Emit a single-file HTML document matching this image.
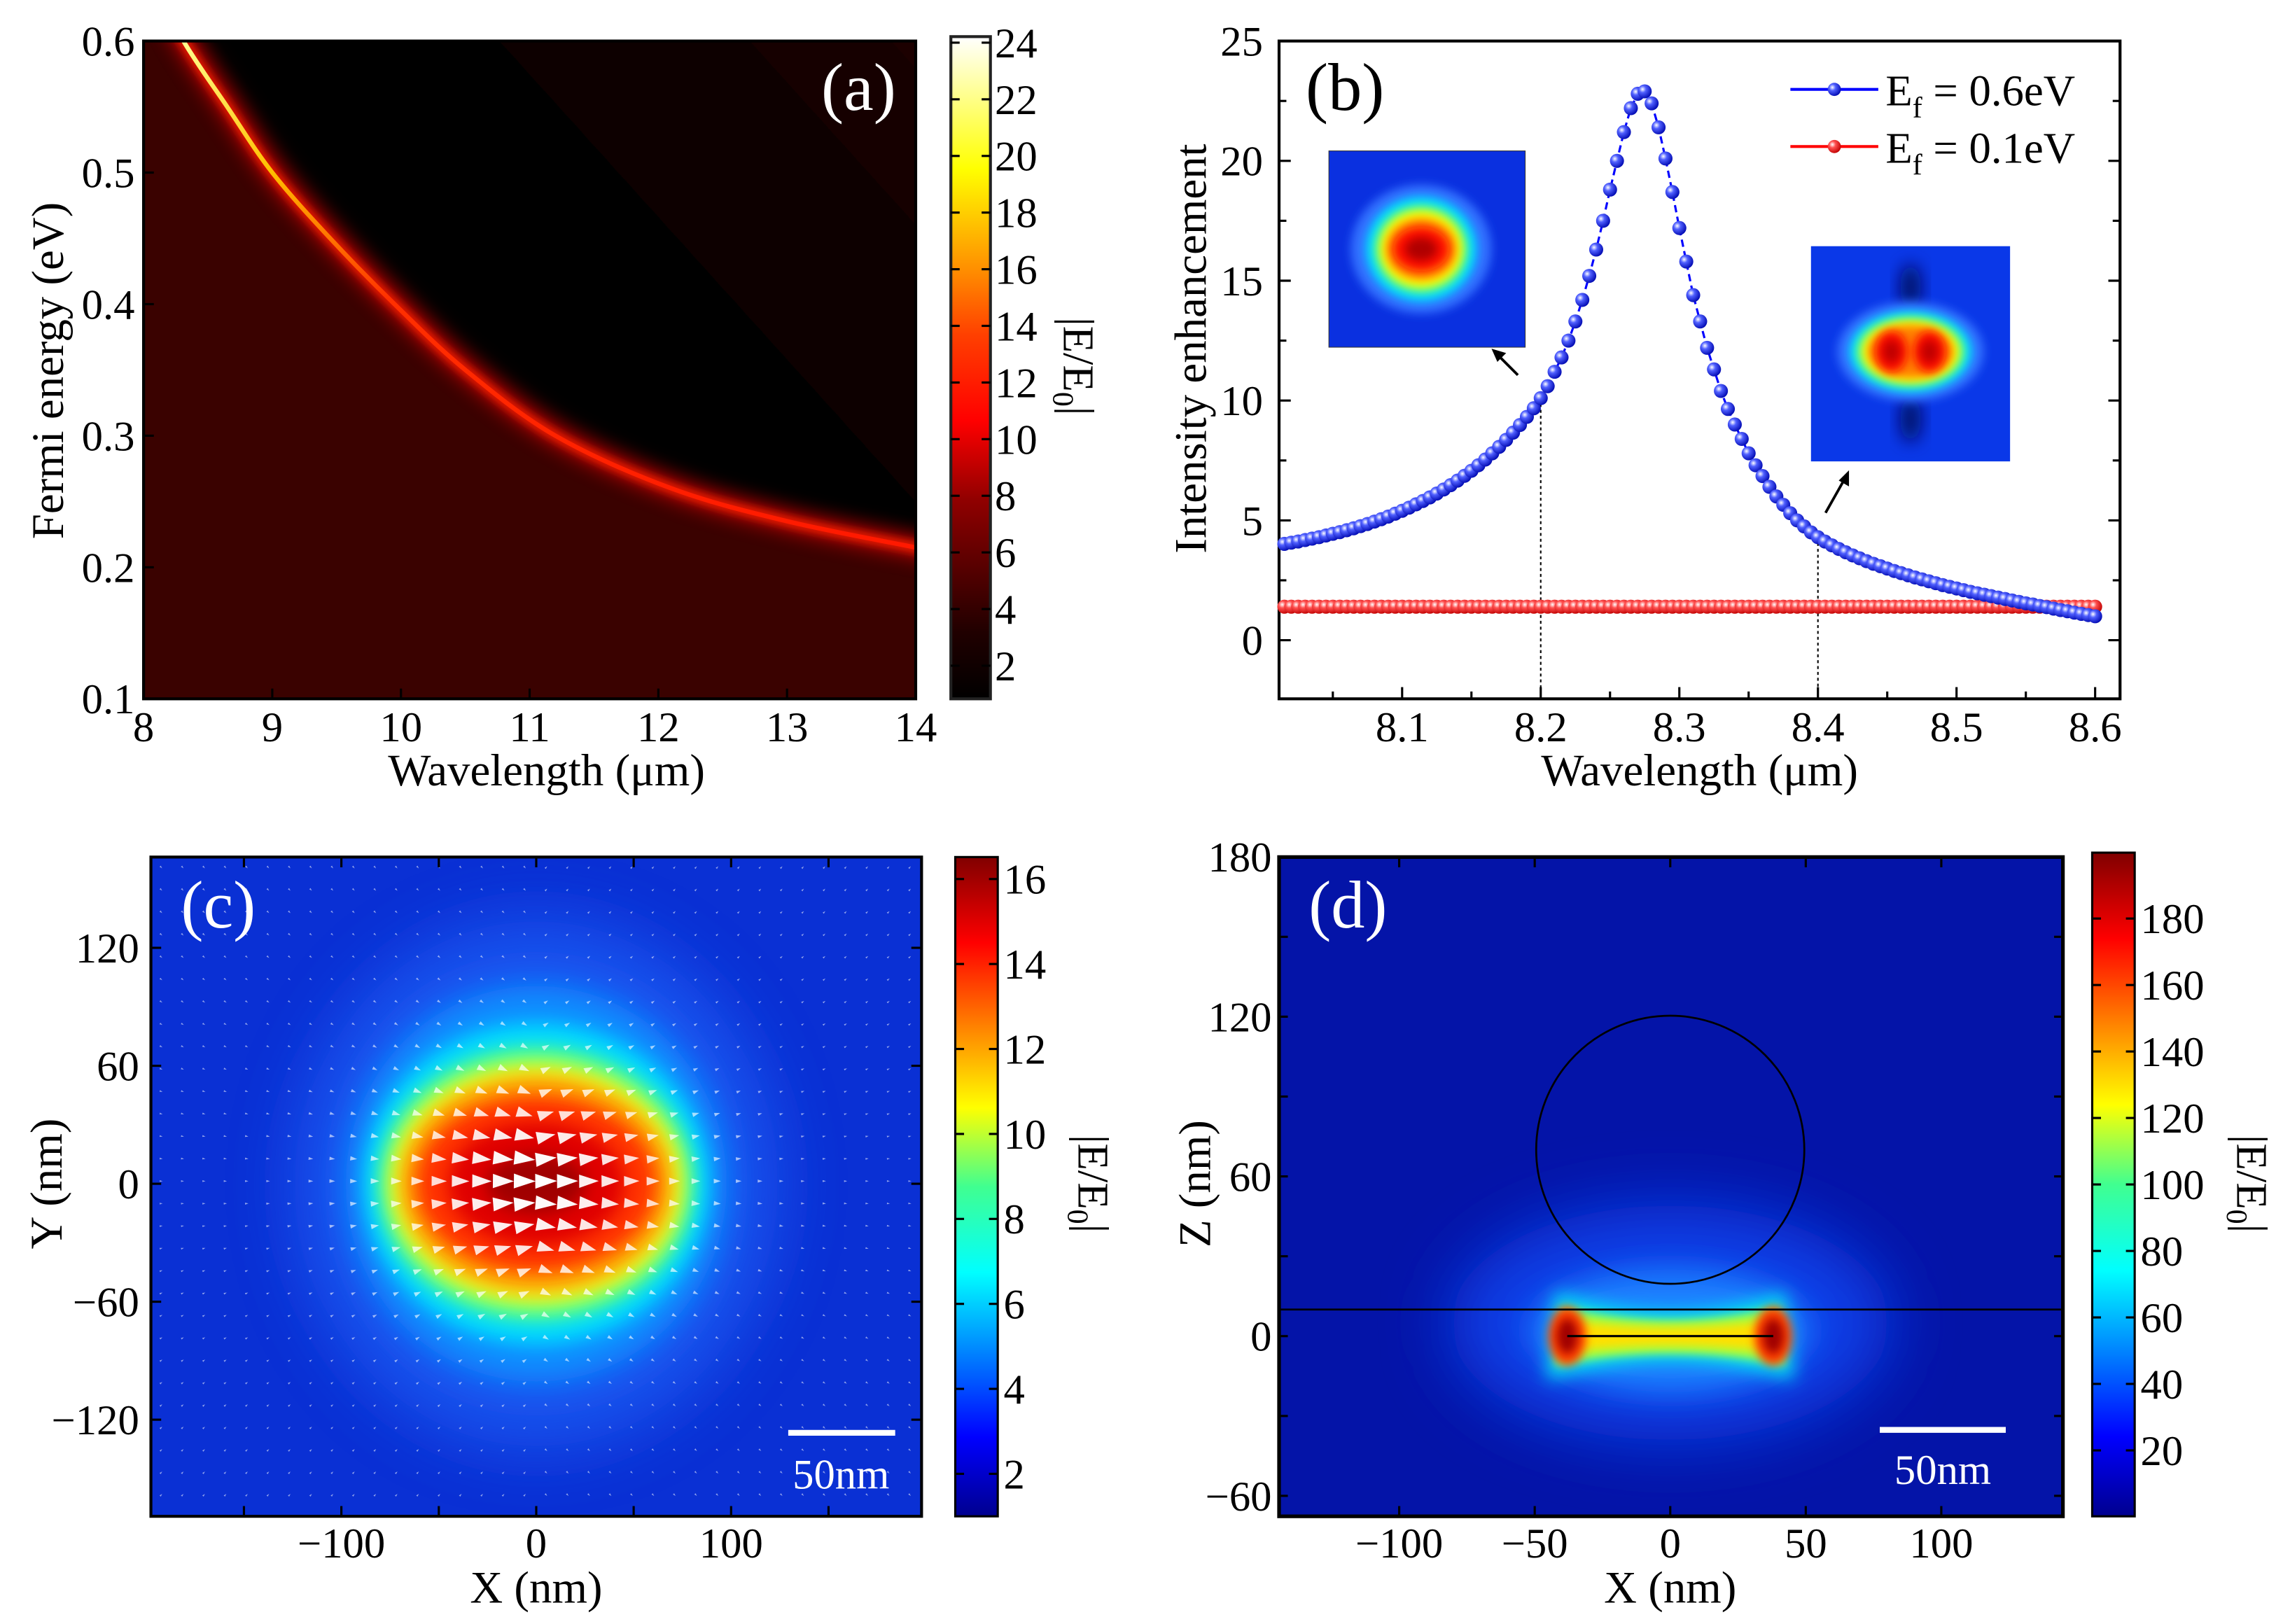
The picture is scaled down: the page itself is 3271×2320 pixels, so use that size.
<!DOCTYPE html>
<html><head><meta charset="utf-8">
<style>
html,body{margin:0;padding:0;background:#fff;}
svg{display:block;}
text{font-family:"Liberation Serif",serif;fill:#000;}
</style></head>
<body>
<svg id="fig" xmlns="http://www.w3.org/2000/svg" width="3271" height="2320" viewBox="0 0 1563 1108.5" preserveAspectRatio="none">
<defs>
  <filter id="blur3" x="-50%" y="-50%" width="200%" height="200%"><feGaussianBlur stdDeviation="3"/></filter>
  <filter id="blur6" x="-50%" y="-50%" width="200%" height="200%"><feGaussianBlur stdDeviation="6"/></filter>
  <filter id="blur10" x="-50%" y="-50%" width="200%" height="200%"><feGaussianBlur stdDeviation="10"/></filter>
  <filter id="blur20" x="-50%" y="-50%" width="200%" height="200%"><feGaussianBlur stdDeviation="22"/></filter>
  <filter id="blurDark" filterUnits="userSpaceOnUse" x="0" y="-100" width="800" height="700"><feGaussianBlur stdDeviation="7"/></filter>
  <clipPath id="clipA"><rect x="98" y="28" width="527" height="449"/></clipPath>
  <clipPath id="clipC"><rect x="103" y="585" width="526" height="450"/></clipPath>
  <clipPath id="clipD"><rect x="873" y="585" width="535" height="450"/></clipPath>
  <clipPath id="clipI1"><rect x="907" y="103" width="134" height="134"/></clipPath>
  <clipPath id="clipI2"><rect x="1236" y="168" width="136" height="147"/></clipPath>
  <linearGradient id="hotBar" x1="0" y1="1" x2="0" y2="0">
    <stop offset="0" stop-color="#000"/><stop offset="0.1" stop-color="#200000"/>
    <stop offset="0.3" stop-color="#900000"/><stop offset="0.42" stop-color="#ff0000"/>
    <stop offset="0.55" stop-color="#ff4000"/><stop offset="0.65" stop-color="#ff9000"/>
    <stop offset="0.8" stop-color="#ffff00"/><stop offset="1" stop-color="#ffffff"/>
  </linearGradient>
  <linearGradient id="jetBar" x1="0" y1="1" x2="0" y2="0">
    <stop offset="0" stop-color="#00008f"/><stop offset="0.12" stop-color="#0000ff"/>
    <stop offset="0.37" stop-color="#00ffff"/><stop offset="0.5" stop-color="#40ff90"/>
    <stop offset="0.62" stop-color="#ffff00"/><stop offset="0.87" stop-color="#ff0000"/>
    <stop offset="1" stop-color="#800000"/>
  </linearGradient>
  <linearGradient id="curveGrad" gradientUnits="userSpaceOnUse" x1="0" y1="28" x2="0" y2="380">
    <stop offset="0" stop-color="#ffff90"/><stop offset="0.25" stop-color="#ffc000"/>
    <stop offset="0.5" stop-color="#ff3000"/><stop offset="1" stop-color="#ff1800"/>
  </linearGradient>
  <linearGradient id="darkGrad" gradientUnits="userSpaceOnUse" x1="330" y1="300" x2="640" y2="20">
    <stop offset="0" stop-color="#000000"/><stop offset="0.3" stop-color="#020000"/>
    <stop offset="0.7" stop-color="#100000"/><stop offset="1" stop-color="#1e0000"/>
  </linearGradient>
  <radialGradient id="ballBlue" cx="0.35" cy="0.35" r="0.7">
    <stop offset="0" stop-color="#ffffff"/><stop offset="0.35" stop-color="#5060ff"/><stop offset="1" stop-color="#0008b0"/>
  </radialGradient>
  <radialGradient id="ballRed" cx="0.35" cy="0.35" r="0.7">
    <stop offset="0" stop-color="#ffffff"/><stop offset="0.35" stop-color="#ff5050"/><stop offset="1" stop-color="#c00000"/>
  </radialGradient>
</defs>
</svg>
<script>
// ---------- data ----------
const aWavelength = [8.05, 8.31, 8.65, 9.0, 9.45, 9.95, 10.5, 11.2, 12.1, 13.0, 14.0, 14.5];
const aFermi      = [0.65, 0.60, 0.55, 0.50, 0.45, 0.40, 0.35, 0.30, 0.26, 0.235, 0.215, 0.205];
const aXTicks = [8, 9, 10, 11, 12, 13, 14];
const aYTicks = [0.1, 0.2, 0.3, 0.4, 0.5, 0.6];
const aBarTicks = [2, 4, 6, 8, 10, 12, 14, 16, 18, 20, 22, 24];

const bStart = 8.015;
const bStep = 0.005;
const bBlue = [4.02,4.07,4.12,4.18,4.24,4.30,4.37,4.44,4.51,4.59,4.67,4.76,4.85,4.95,5.05,5.16,5.28,5.40,5.53,5.67,5.81,5.96,6.12,6.29,6.47,6.66,6.86,7.07,7.30,7.54,7.80,8.07,8.36,8.66,8.98,9.32,9.68,10.1,10.6,11.2,11.8,12.5,13.3,14.2,15.2,16.3,17.5,18.8,20.0,21.2,22.2,22.8,22.9,22.4,21.4,20.1,18.7,17.2,15.8,14.4,13.3,12.2,11.3,10.4,9.65,9.0,8.4,7.8,7.3,6.85,6.4,6.0,5.65,5.3,5.0,4.75,4.5,4.3,4.12,3.96,3.81,3.67,3.54,3.42,3.30,3.19,3.09,2.99,2.89,2.80,2.71,2.62,2.54,2.46,2.38,2.30,2.23,2.16,2.09,2.02,1.96,1.90,1.84,1.78,1.72,1.66,1.60,1.54,1.49,1.43,1.38,1.32,1.26,1.21,1.15,1.10,1.05,1.00];
const bRed = [1.4,1.4,1.4,1.4,1.4,1.4,1.4,1.4,1.4,1.4,1.4,1.4,1.4,1.4,1.4,1.4,1.4,1.4,1.4,1.4,1.4,1.4,1.4,1.4,1.4,1.4,1.4,1.4,1.4,1.4,1.4,1.4,1.4,1.4,1.4,1.4,1.4,1.4,1.4,1.4,1.4,1.4,1.4,1.4,1.4,1.4,1.4,1.4,1.4,1.4,1.4,1.4,1.4,1.4,1.4,1.4,1.4,1.4,1.4,1.4,1.4,1.4,1.4,1.4,1.4,1.4,1.4,1.4,1.4,1.4,1.4,1.4,1.4,1.4,1.4,1.4,1.4,1.4,1.4,1.4,1.4,1.4,1.4,1.4,1.4,1.4,1.4,1.4,1.4,1.4,1.4,1.4,1.4,1.4,1.4,1.4,1.4,1.4,1.4,1.4,1.4,1.4,1.4,1.4,1.4,1.4,1.4,1.4,1.4,1.4,1.4,1.4,1.4,1.4,1.4,1.4,1.4,1.4];
const bXTicks = [8.1, 8.2, 8.3, 8.4, 8.5, 8.6];
const bYTicks = [0, 5, 10, 15, 20, 25];
const bMarkLines = [8.2, 8.4];

const cXTicks = [-100, 0, 100];
const cYTicks = [-120, -60, 0, 60, 120];
const cBarTicks = [2, 4, 6, 8, 10, 12, 14, 16];
const dXTicks = [-100, -50, 0, 50, 100];
const dYTicks = [-60, 0, 60, 120, 180];
const dBarTicks = [20, 40, 60, 80, 100, 120, 140, 160, 180];
const dSphere = [0, 70, 50];   // x, z, radius (nm)
const dSubstrateZ = 10;
const dRodEnds = [-38, 38];

// ---------- axis functions ----------
const xA = v => 98 + (v - 8) * (527 / 6);
const yA = v => 477 - (v - 0.1) * (449 / 0.5);
const yAbar = v => 477 - (v - 0.83) * 19.33;
const xB = v => 957 + (v - 8.1) * 946;
const yB = v => 437 - v * 16.36;
const xC = v => 366 + v * 1.33;
const yC = v => 808 - v * 1.342;
const yCbar = v => 1006 - (v - 2) * 29;
const xD = v => 1140 + v * 1.85;
const yD = v => 912 - v * 1.817;
const yDbar = v => 990 - (v - 20) * 2.269;

const NS = "http://www.w3.org/2000/svg";
const svg = document.getElementById('fig');
function mk(tag, attrs, parent, name, inter) {
  const e = document.createElementNS(NS, tag);
  for (const k in attrs) e.setAttribute(k, attrs[k]);
  
  
  (parent || svg).appendChild(e);
  return e;
}
function txt(x, y, s, size, anchor, name, parent, extra) {
  const t = mk('text', Object.assign({x: x, y: y, 'font-size': size, 'text-anchor': anchor || 'middle'}, extra || {}), parent, name);
  t.textContent = s;
  return t;
}
function group(name) { return mk('g', {}, svg, name); }
function barTitle(x, y, name, parent) {
  const t = mk('text', {x: 0, y: 0, 'font-size': 30, 'text-anchor': 'middle', transform: 'translate(' + x + ',' + y + ') rotate(90)'}, parent, name);
  const a = document.createElementNS(NS, 'tspan'); a.textContent = '|E/E'; t.appendChild(a);
  const b = document.createElementNS(NS, 'tspan'); b.setAttribute('font-size', 20); b.setAttribute('dy', 7); b.textContent = '0'; t.appendChild(b);
  const c = document.createElementNS(NS, 'tspan'); c.setAttribute('dy', -7); c.textContent = '|'; t.appendChild(c);
}
function smoothPath(xs, ys) {
  let d = 'M' + xs[0] + ' ' + ys[0];
  for (let i = 0; i < xs.length - 1; i++) {
    const x0 = xs[Math.max(i - 1, 0)], y0 = ys[Math.max(i - 1, 0)];
    const x3 = xs[Math.min(i + 2, xs.length - 1)], y3 = ys[Math.min(i + 2, xs.length - 1)];
    const c1x = xs[i] + (xs[i + 1] - x0) / 6, c1y = ys[i] + (ys[i + 1] - y0) / 6;
    const c2x = xs[i + 1] - (x3 - xs[i]) / 6, c2y = ys[i + 1] - (y3 - ys[i]) / 6;
    d += ' C' + c1x + ' ' + c1y + ' ' + c2x + ' ' + c2y + ' ' + xs[i + 1] + ' ' + ys[i + 1];
  }
  return d;
}

// ================= PANEL A =================
const pa = group('panel-a');
const amap = mk('g', {'clip-path': 'url(#clipA)'}, pa, 'heatmap-a');
mk('rect', {x: 98, y: 28, width: 527, height: 449, fill: '#3a0200'}, amap, 'heatmap-a-background');
const dp = smoothPath(aWavelength.map(xA), aFermi.map(yA));
const darkPath = dp + ' L720 ' + yA(aFermi[aFermi.length - 1]) + ' L720 -60 L' + xA(aWavelength[0]) + ' -60 Z';
mk('path', {d: darkPath, fill: 'url(#darkGrad)', filter: 'url(#blurDark)', transform: 'translate(9,-7)'}, amap, 'dark-region');
mk('path', {d: dp, fill: 'none', stroke: '#b00000', 'stroke-width': 16, filter: 'url(#blur6)', opacity: 0.8}, amap, 'resonance-glow');
mk('path', {d: dp, fill: 'none', stroke: '#ff2000', 'stroke-width': 6, filter: 'url(#blur3)'}, amap, 'resonance-halo');
mk('path', {d: dp, fill: 'none', stroke: 'url(#curveGrad)', 'stroke-width': 3}, amap, 'resonance-curve');
mk('rect', {x: 98, y: 28, width: 527, height: 449, fill: 'none', stroke: '#000', 'stroke-width': 2}, pa, 'plot-frame-a');
aXTicks.forEach(v => {
  mk('line', {x1: xA(v), x2: xA(v), y1: 477, y2: 470, stroke: '#000', 'stroke-width': 1.5}, pa, 'x-tick-a');
  txt(xA(v), 506, String(v), 29, 'middle', 'x-tick-label-a', pa);
});
aYTicks.forEach(v => {
  mk('line', {x1: 98, x2: 105, y1: yA(v), y2: yA(v), stroke: '#000', 'stroke-width': 1.5}, pa, 'y-tick-a');
  txt(92, yA(v) + 10, v.toFixed(1), 29, 'end', 'y-tick-label-a', pa);
});
txt(373, 536, 'Wavelength (\u03bcm)', 31, 'middle', 'x-axis-title-a', pa);
txt(0, 0, 'Fermi energy (eV)', 31, 'middle', 'y-axis-title-a', pa, {transform: 'translate(43,253) rotate(-90)'});
txt(586, 75, '(a)', 46, 'middle', 'panel-label-a', pa, {style: 'fill:#fff'});
mk('rect', {x: 649, y: 25, width: 27, height: 452, fill: 'url(#hotBar)', stroke: '#222', 'stroke-width': 2}, pa, 'colorbar-a');
aBarTicks.forEach(v => {
  mk('line', {x1: 649, x2: 655, y1: yAbar(v), y2: yAbar(v), stroke: '#000', 'stroke-width': 1.5}, pa, 'colorbar-tick-a');
  mk('line', {x1: 670, x2: 676, y1: yAbar(v), y2: yAbar(v), stroke: '#000', 'stroke-width': 1.5}, pa, 'colorbar-tick-a');
  txt(679, yAbar(v) + 10, String(v), 29, 'start', 'colorbar-label-a', pa);
});
barTitle(726, 250, 'colorbar-title-a', pa);

// ================= PANEL B =================
const pb = group('panel-b');
mk('rect', {x: 873, y: 28, width: 574, height: 449, fill: '#fff', stroke: '#000', 'stroke-width': 2}, pb, 'plot-frame-b');
bXTicks.forEach(v => {
  mk('line', {x1: xB(v), x2: xB(v), y1: 477, y2: 469, stroke: '#000', 'stroke-width': 1.5}, pb, 'x-tick-b');
  mk('line', {x1: xB(v - 0.05), x2: xB(v - 0.05), y1: 477, y2: 472, stroke: '#000', 'stroke-width': 1.5}, pb, 'x-minor-tick-b');
  txt(xB(v), 506, v.toFixed(1), 29, 'middle', 'x-tick-label-b', pb);
});
bYTicks.forEach(v => {
  mk('line', {x1: 873, x2: 881, y1: yB(v), y2: yB(v), stroke: '#000', 'stroke-width': 1.5}, pb, 'y-tick-b');
  mk('line', {x1: 1447, x2: 1439, y1: yB(v), y2: yB(v), stroke: '#000', 'stroke-width': 1.5}, pb, 'y-tick-b-right');
  if (v < 25) {
    mk('line', {x1: 873, x2: 878, y1: yB(v + 2.5), y2: yB(v + 2.5), stroke: '#000', 'stroke-width': 1.5}, pb, 'y-minor-tick-b');
    mk('line', {x1: 1447, x2: 1442, y1: yB(v + 2.5), y2: yB(v + 2.5), stroke: '#000', 'stroke-width': 1.5}, pb, 'y-minor-tick-b-right');
  }
  txt(862, yB(v) + 10, String(v), 29, 'end', 'y-tick-label-b', pb);
});
txt(1160, 536, 'Wavelength (\u03bcm)', 31, 'middle', 'x-axis-title-b', pb);
txt(0, 0, 'Intensity enhancement', 31, 'middle', 'y-axis-title-b', pb, {transform: 'translate(823,238) rotate(-90)'});
txt(918, 75, '(b)', 46, 'middle', 'panel-label-b', pb);
bMarkLines.forEach(v => {
  const idx = Math.round((v - bStart) / bStep);
  mk('line', {x1: xB(v), x2: xB(v), y1: yB(bBlue[idx]), y2: 477, stroke: '#000', 'stroke-width': 1, 'stroke-dasharray': '2,2'}, pb, 'guide-line');
});
let blueD = '', redD = '';
bBlue.forEach((v, i) => { blueD += (i ? ' L' : 'M') + xB(bStart + i * bStep) + ' ' + yB(v); });
bRed.forEach((v, i) => { redD += (i ? ' L' : 'M') + xB(bStart + i * bStep) + ' ' + yB(v); });
mk('path', {d: redD, fill: 'none', stroke: '#f00', 'stroke-width': 1.5}, pb, 'series-line-ef-0.1');
mk('path', {d: blueD, fill: 'none', stroke: '#00f', 'stroke-width': 1.5, 'stroke-dasharray': '5,3'}, pb, 'series-line-ef-0.6');
bRed.forEach((v, i) => {
  mk('circle', {cx: xB(bStart + i * bStep), cy: yB(v), r: 4.8, fill: 'url(#ballRed)'}, pb, 'point-ef-0.1');
});
bBlue.forEach((v, i) => {
  mk('circle', {cx: xB(bStart + i * bStep), cy: yB(v), r: 4.8, fill: 'url(#ballBlue)'}, pb, 'point-ef-0.6');
});
const lg = mk('g', {}, pb, 'legend');
mk('line', {x1: 1222, x2: 1282, y1: 61, y2: 61, stroke: '#00f', 'stroke-width': 2}, lg, 'legend-line-ef-0.6');
mk('circle', {cx: 1252, cy: 61, r: 4.5, fill: 'url(#ballBlue)'}, lg, 'legend-marker-ef-0.6');
const l1 = txt(1287, 72, 'E', 30, 'start', 'legend-entry-ef-0.6', lg);
const s1 = document.createElementNS(NS, 'tspan'); s1.setAttribute('font-size', 20); s1.setAttribute('dy', 8); s1.textContent = 'f'; l1.appendChild(s1);
const s1b = document.createElementNS(NS, 'tspan'); s1b.setAttribute('dy', -8); s1b.textContent = ' = 0.6eV'; l1.appendChild(s1b);
mk('line', {x1: 1222, x2: 1282, y1: 100, y2: 100, stroke: '#f00', 'stroke-width': 2}, lg, 'legend-line-ef-0.1');
mk('circle', {cx: 1252, cy: 100, r: 4.5, fill: 'url(#ballRed)'}, lg, 'legend-marker-ef-0.1');
const l2 = txt(1287, 111, 'E', 30, 'start', 'legend-entry-ef-0.1', lg);
const s2 = document.createElementNS(NS, 'tspan'); s2.setAttribute('font-size', 20); s2.setAttribute('dy', 8); s2.textContent = 'f'; l2.appendChild(s2);
const s2b = document.createElementNS(NS, 'tspan'); s2b.setAttribute('dy', -8); s2b.textContent = ' = 0.1eV'; l2.appendChild(s2b);
const in1 = mk('g', {'clip-path': 'url(#clipI1)'}, pb, 'inset-field-8.2');
mk('rect', {x: 907, y: 103, width: 134, height: 134, fill: '#0a30e0'}, in1, 'inset-1-bg');
[[48,44,'#3070ff'],[38,36,'#00d8ff'],[32,30,'#60ff80'],[28,26,'#ffff00'],[24,21,'#ff8000'],[19,15,'#ff1000'],[11,8,'#b00000']].forEach(r => {
  mk('ellipse', {cx: 970, cy: 170, rx: r[0], ry: r[1], fill: r[2], filter: 'url(#blur3)'}, in1, 'inset-1-contour');
});
mk('rect', {x: 907, y: 103, width: 134, height: 134, fill: 'none', stroke: '#333', 'stroke-width': 0.5}, pb, 'inset-1-frame');
const in2 = mk('g', {'clip-path': 'url(#clipI2)'}, pb, 'inset-field-8.4');
mk('rect', {x: 1236, y: 168, width: 136, height: 147, fill: '#0a38e8'}, in2, 'inset-2-bg');
mk('ellipse', {cx: 1304, cy: 196, rx: 7, ry: 16, fill: '#001060', filter: 'url(#blur6)'}, in2, 'inset-2-node');
mk('ellipse', {cx: 1304, cy: 286, rx: 7, ry: 16, fill: '#001060', filter: 'url(#blur6)'}, in2, 'inset-2-node');
[[50,34,'#3070ff'],[42,28,'#00d8ff'],[37,24,'#60ff80'],[33,21,'#ffff00'],[29,18,'#ff8000']].forEach(r => {
  mk('ellipse', {cx: 1304, cy: 240, rx: r[0], ry: r[1], fill: r[2], filter: 'url(#blur3)'}, in2, 'inset-2-contour');
});
mk('ellipse', {cx: 1291, cy: 240, rx: 11, ry: 14, fill: '#ff1000', filter: 'url(#blur3)'}, in2, 'inset-2-hotspot-halo');
mk('ellipse', {cx: 1317, cy: 240, rx: 11, ry: 14, fill: '#ff1000', filter: 'url(#blur3)'}, in2, 'inset-2-hotspot-halo');
mk('ellipse', {cx: 1291, cy: 240, rx: 6, ry: 8, fill: '#c00000', filter: 'url(#blur3)'}, in2, 'inset-2-hotspot');
mk('ellipse', {cx: 1317, cy: 240, rx: 6, ry: 8, fill: '#c00000', filter: 'url(#blur3)'}, in2, 'inset-2-hotspot');
mk('line', {x1: 1036, y1: 256, x2: 1022, y2: 242, stroke: '#000', 'stroke-width': 1.8}, pb, 'arrow-1');
mk('path', {d: 'M1018 238 L1028 241 L1022 247 Z', fill: '#000'}, pb, 'arrow-1-head');
mk('line', {x1: 1246, y1: 350, x2: 1259, y2: 327, stroke: '#000', 'stroke-width': 1.8}, pb, 'arrow-2');
mk('path', {d: 'M1262 321 L1262 332 L1255 328 Z', fill: '#000'}, pb, 'arrow-2-head');

// ================= PANEL C =================
const pc = group('panel-c');
const cmap = mk('g', {'clip-path': 'url(#clipC)'}, pc, 'field-map-c');
mk('rect', {x: 103, y: 585, width: 526, height: 450, fill: '#0a30d4'}, cmap, 'field-c-bg');
[[165,180,'#1d5cf5',0.85,'blur20'],[130,135,'#1090ff',1,'blur10'],[118,110,'#00d8ff',1,'blur6'],[108,94,'#50ff90',1,'blur6'],[101,83,'#e8ff20',1,'blur6'],[93,74,'#ffa000',1,'blur6'],[82,60,'#ff3000',1,'blur6'],[60,42,'#e00000',1,'blur6'],[34,20,'#a00000',1,'blur6']].forEach(r => {
  mk('ellipse', {cx: 366, cy: 808, rx: r[0], ry: r[1], fill: r[2], opacity: r[3], filter: 'url(#' + r[4] + ')'}, cmap, 'field-c-contour');
});
for (let gy = 592; gy < 1035; gy += 15.3) {
  for (let gx = 110; gx < 629; gx += 14.6) {
    const dx = (gx - 366) / 95, dy = (gy - 808) / 75;
    const I = Math.exp(-(dx * dx + dy * dy) * 0.9);
    const len = 2 + 13 * I;
    const w = 0.6 + 4.5 * I;
    const ang = Math.atan2(dy * 0.6, 1) * (dx > 0 ? 1 : -1) * 0.8;
    const ca = Math.cos(ang), sa = Math.sin(ang);
    const p = [[gx + ca * len / 2, gy + sa * len / 2], [gx - ca * len / 2 - sa * w, gy - sa * len / 2 + ca * w], [gx - ca * len / 2 + sa * w, gy - sa * len / 2 - ca * w]];
    mk('path', {d: 'M' + p[0].join(' ') + ' L' + p[1].join(' ') + ' L' + p[2].join(' ') + 'Z', fill: '#fff', opacity: 0.55 + 0.45 * I}, cmap, 'field-arrow');
  }
}
mk('rect', {x: 103, y: 585, width: 526, height: 450, fill: 'none', stroke: '#000', 'stroke-width': 2}, pc, 'plot-frame-c');
[-150, -100, -50, 0, 50, 100, 150].forEach(v => {
  mk('line', {x1: xC(v), x2: xC(v), y1: 1035, y2: 1028, stroke: '#000', 'stroke-width': 1.5}, pc, 'x-tick-c');
  mk('line', {x1: xC(v), x2: xC(v), y1: 585, y2: 592, stroke: '#000', 'stroke-width': 1.5}, pc, 'x-tick-c-top');
});
cXTicks.forEach(v => txt(xC(v), 1063, v < 0 ? '\u2212' + (-v) : String(v), 29, 'middle', 'x-tick-label-c', pc));
cYTicks.forEach(v => {
  mk('line', {x1: 103, x2: 110, y1: yC(v), y2: yC(v), stroke: '#000', 'stroke-width': 1.5}, pc, 'y-tick-c');
  mk('line', {x1: 629, x2: 622, y1: yC(v), y2: yC(v), stroke: '#000', 'stroke-width': 1.5}, pc, 'y-tick-c-right');
  txt(95, yC(v) + 10, v < 0 ? '\u2212' + (-v) : String(v), 29, 'end', 'y-tick-label-c', pc);
});
txt(366, 1094, 'X (nm)', 31, 'middle', 'x-axis-title-c', pc);
txt(0, 0, 'Y (nm)', 31, 'middle', 'y-axis-title-c', pc, {transform: 'translate(42,808) rotate(-90)'});
txt(149, 633, '(c)', 46, 'middle', 'panel-label-c', pc, {style: 'fill:#fff'});
mk('line', {x1: 538, x2: 611, y1: 978, y2: 978, stroke: '#fff', 'stroke-width': 4}, pc, 'scale-bar-c');
txt(574, 1016, '50nm', 29, 'middle', 'scale-bar-label-c', pc, {style: 'fill:#fff'});
mk('rect', {x: 652, y: 585, width: 29, height: 450, fill: 'url(#jetBar)', stroke: '#000', 'stroke-width': 1.5}, pc, 'colorbar-c');
cBarTicks.forEach(v => {
  mk('line', {x1: 652, x2: 658, y1: yCbar(v), y2: yCbar(v), stroke: '#000', 'stroke-width': 1.5}, pc, 'colorbar-tick-c');
  mk('line', {x1: 675, x2: 681, y1: yCbar(v), y2: yCbar(v), stroke: '#000', 'stroke-width': 1.5}, pc, 'colorbar-tick-c');
  txt(685, yCbar(v) + 10, String(v), 29, 'start', 'colorbar-label-c', pc);
});
barTitle(736, 808, 'colorbar-title-c', pc);

// ================= PANEL D =================
const pd = group('panel-d');
const dmap = mk('g', {'clip-path': 'url(#clipD)'}, pd, 'field-map-d');
mk('rect', {x: 873, y: 585, width: 535, height: 450, fill: '#0414a8'}, dmap, 'field-d-bg');
mk('ellipse', {cx: xD(0), cy: yD(5), rx: 150, ry: 80, fill: '#1040e8', filter: 'url(#blur20)'}, dmap, 'field-d-glow');
mk('ellipse', {cx: xD(0), cy: yD(2), rx: 95, ry: 42, fill: '#1a80ff', filter: 'url(#blur10)'}, dmap, 'field-d-outer');
const rx1 = xD(dRodEnds[0]), rx2 = xD(dRodEnds[1]), rz = yD(0);
mk('path', {d: 'M' + (rx1 - 8) + ' ' + (rz - 30) + ' Q' + xD(0) + ' ' + (rz - 4) + ' ' + (rx2 + 8) + ' ' + (rz - 30) + ' L' + (rx2 + 14) + ' ' + (rz + 30) + ' Q' + xD(0) + ' ' + (rz + 4) + ' ' + (rx1 - 14) + ' ' + (rz + 30) + ' Z', fill: '#00e0f0', filter: 'url(#blur6)'}, dmap, 'field-d-cyan');
mk('path', {d: 'M' + (rx1 - 4) + ' ' + (rz - 20) + ' Q' + xD(0) + ' ' + (rz - 2) + ' ' + (rx2 + 4) + ' ' + (rz - 20) + ' L' + (rx2 + 8) + ' ' + (rz + 20) + ' Q' + xD(0) + ' ' + (rz + 4) + ' ' + (rx1 - 8) + ' ' + (rz + 20) + ' Z', fill: '#a0ff40', filter: 'url(#blur3)'}, dmap, 'field-d-green');
mk('path', {d: 'M' + rx1 + ' ' + (rz - 11) + ' Q' + xD(0) + ' ' + (rz - 1) + ' ' + rx2 + ' ' + (rz - 11) + ' L' + rx2 + ' ' + (rz + 11) + ' Q' + xD(0) + ' ' + (rz + 2) + ' ' + rx1 + ' ' + (rz + 11) + ' Z', fill: '#ffe000', filter: 'url(#blur3)'}, dmap, 'field-d-yellow');
[rx1, rx2].forEach(x => {
  mk('ellipse', {cx: x, cy: rz, rx: 13, ry: 20, fill: '#ff4000', filter: 'url(#blur3)'}, dmap, 'field-d-hotspot-outer');
  mk('ellipse', {cx: x, cy: rz, rx: 7, ry: 12, fill: '#a00000', filter: 'url(#blur3)'}, dmap, 'field-d-hotspot');
});
mk('line', {x1: rx1, x2: rx2, y1: rz, y2: rz, stroke: '#000', 'stroke-width': 1.5}, dmap, 'graphene-rod');
mk('line', {x1: 873, x2: 1408, y1: yD(dSubstrateZ), y2: yD(dSubstrateZ), stroke: '#000', 'stroke-width': 1.3}, dmap, 'substrate-line');
mk('circle', {cx: xD(dSphere[0]), cy: yD(dSphere[1]), r: dSphere[2] * 1.83, fill: 'none', stroke: '#000', 'stroke-width': 1.3}, dmap, 'nanosphere-outline');
mk('rect', {x: 873, y: 585, width: 535, height: 450, fill: 'none', stroke: '#000', 'stroke-width': 2.5}, pd, 'plot-frame-d');
dXTicks.forEach(v => {
  mk('line', {x1: xD(v), x2: xD(v), y1: 1035, y2: 1028, stroke: '#000', 'stroke-width': 1.5}, pd, 'x-tick-d');
  mk('line', {x1: xD(v), x2: xD(v), y1: 585, y2: 592, stroke: '#000', 'stroke-width': 1.5}, pd, 'x-tick-d-top');
  txt(xD(v), 1063, v < 0 ? '\u2212' + (-v) : String(v), 29, 'middle', 'x-tick-label-d', pd);
});
[-60, -30, 0, 30, 60, 90, 120, 150].forEach(v => {
  mk('line', {x1: 873, x2: 879, y1: yD(v), y2: yD(v), stroke: '#000', 'stroke-width': 1.5}, pd, 'y-tick-d');
  mk('line', {x1: 1408, x2: 1402, y1: yD(v), y2: yD(v), stroke: '#000', 'stroke-width': 1.5}, pd, 'y-tick-d-right');
});
dYTicks.forEach(v => txt(868, yD(v) + 10, v < 0 ? '\u2212' + (-v) : String(v), 29, 'end', 'y-tick-label-d', pd));
txt(1140, 1094, 'X (nm)', 31, 'middle', 'x-axis-title-d', pd);
txt(0, 0, 'Z (nm)', 31, 'middle', 'y-axis-title-d', pd, {transform: 'translate(826,808) rotate(-90)'});
txt(920, 633, '(d)', 46, 'middle', 'panel-label-d', pd, {style: 'fill:#fff'});
mk('line', {x1: 1283, x2: 1369, y1: 976, y2: 976, stroke: '#fff', 'stroke-width': 4}, pd, 'scale-bar-d');
txt(1326, 1013, '50nm', 29, 'middle', 'scale-bar-label-d', pd, {style: 'fill:#fff'});
mk('rect', {x: 1428, y: 582, width: 29, height: 453, fill: 'url(#jetBar)', stroke: '#000', 'stroke-width': 1.5}, pd, 'colorbar-d');
dBarTicks.forEach(v => {
  mk('line', {x1: 1428, x2: 1434, y1: yDbar(v), y2: yDbar(v), stroke: '#000', 'stroke-width': 1.5}, pd, 'colorbar-tick-d');
  mk('line', {x1: 1451, x2: 1457, y1: yDbar(v), y2: yDbar(v), stroke: '#000', 'stroke-width': 1.5}, pd, 'colorbar-tick-d');
  txt(1461, yDbar(v) + 10, String(v), 29, 'start', 'colorbar-label-d', pd);
});
barTitle(1527, 808, 'colorbar-title-d', pd);
</script>
</body></html>
